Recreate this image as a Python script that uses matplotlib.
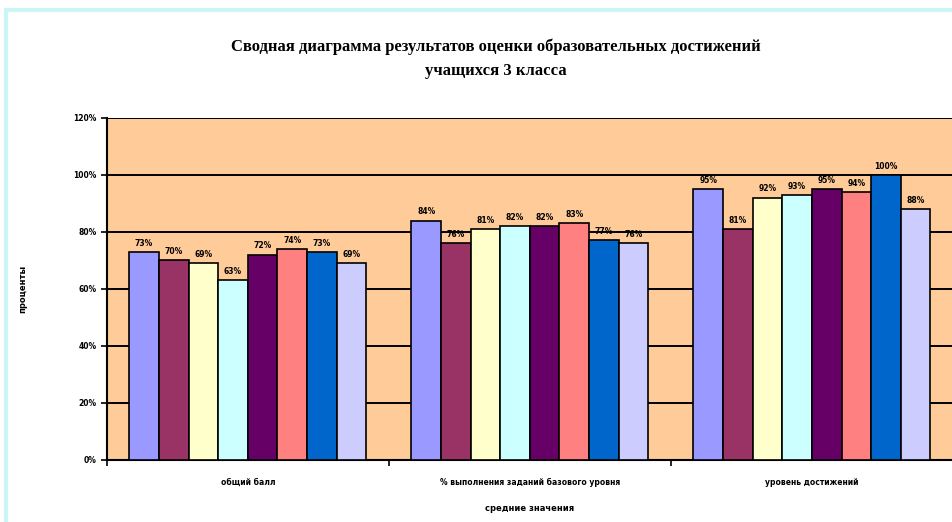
import matplotlib
matplotlib.use("Agg")
import matplotlib.pyplot as plt
import numpy as np
from matplotlib.patches import Rectangle

categories = ["общий балл", "% выполнения заданий базового уровня", "уровень достижений"]
series_names = ["Ряд1", "Ряд2", "Ряд3", "Ряд4", "Ряд5", "Ряд6", "Ряд7", "Ряд8"]
s1 = [73, 84, 95]
s2 = [70, 76, 81]
s3 = [69, 81, 92]
s4 = [63, 82, 93]
s5 = [72, 82, 95]
s6 = [74, 83, 94]
s7 = [73, 77, 100]
s8 = [69, 76, 88]
series_values = [s1, s2, s3, s4, s5, s6, s7, s8]
colors = ["#9999FF", "#993366", "#FFFFCC", "#CCFFFF", "#660066", "#FF8080", "#0066CC", "#CCCCFF"]
yticks = [0, 20, 40, 60, 80, 100, 120]
title = "Сводная диаграмма результатов оценки образовательных достижений\nучащихся 3 класса"
ylabel = "проценты"
xlabel = "средние значения"

fig = plt.figure(figsize=(9.53, 5.22), dpi=100)
fig.patches.append(Rectangle((0.006, -0.01), 1.0, 0.99, transform=fig.transFigure,
                             facecolor="white", edgecolor="#CCF5F5", linewidth=3, zorder=-1))
ax = fig.add_axes([0.112, 0.119, 0.888, 0.655])
ax.set_facecolor("#FFCC99")

n = len(series_values)
bw = 0.105
x = np.arange(len(categories))
for i, (vals, c) in enumerate(zip(series_values, colors)):
    pos = x + (i - (n - 1) / 2) * bw
    bars = ax.bar(pos, vals, width=bw, color=c, edgecolor="black", linewidth=1.2, zorder=3,
                  label=series_names[i])
    for b, v in zip(bars, vals):
        ax.text(b.get_x() + b.get_width() / 2, v + 1.5, f"{v}%", ha="center", va="bottom",
                fontsize=5.5, fontweight="bold", family="DejaVu Sans", zorder=4)

ax.set_xlim(-0.5, len(categories) - 0.5)
ax.set_ylim(0, 120)
ax.set_yticks(yticks)
ax.set_yticklabels([f"{t}%" for t in yticks], fontsize=5.5, fontweight="bold")
ax.set_xticks(x)
ax.set_xticklabels(categories, fontsize=5.5, fontweight="bold")
ax.set_xticks([-0.5, 0.5, 1.5, 2.5], minor=True)
ax.tick_params(axis="x", which="major", length=0, pad=13)
ax.tick_params(axis="x", which="minor", length=4, width=1.2, direction="out")
ax.tick_params(axis="y", length=4, width=1.2, direction="out")
ax.yaxis.grid(True, color="black", linewidth=1.4, zorder=1)
ax.set_axisbelow(True)
for s in ["top", "right"]:
    ax.spines[s].set_visible(False)
ax.spines["left"].set_linewidth(1.5)
ax.spines["bottom"].set_linewidth(1.5)

ax.set_ylabel(ylabel, fontsize=6, fontweight="bold", labelpad=33)
ax.set_xlabel(xlabel, fontsize=6, fontweight="bold", labelpad=12)

fig.text(0.52, 0.888, title, ha="center", va="center", fontsize=12, fontweight="bold",
         family="Liberation Serif", linespacing=1.7)

fig.savefig("out.png", dpi=100)
